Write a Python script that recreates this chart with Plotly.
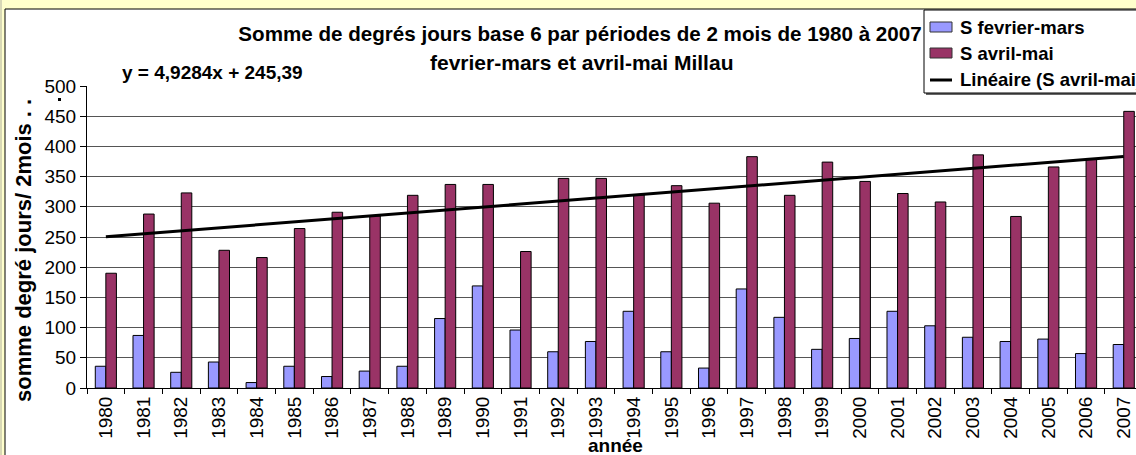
import plotly.graph_objects as go

# ---------------- data ----------------
YEARS = ["1980", "1981", "1982", "1983", "1984", "1985", "1986", "1987", "1988", "1989",
         "1990", "1991", "1992", "1993", "1994", "1995", "1996", "1997", "1998", "1999",
         "2000", "2001", "2002", "2003", "2004", "2005", "2006", "2007"]
FEV_MARS = [36, 87, 26, 43, 9, 36, 19, 28, 36, 115,
            169, 96, 60, 77, 127, 60, 33, 164, 117, 64,
            82, 127, 103, 84, 77, 81, 57, 72]
AVR_MAI = [190, 288, 323, 228, 216, 264, 291, 285, 319, 337,
           337, 226, 347, 347, 320, 335, 306, 383, 319, 374,
           342, 322, 308, 386, 284, 366, 380, 458]
# trend line equation printed on the chart
TREND_SLOPE = 4.9284
TREND_INTERCEPT = 245.39
Y_TICKS = [0, 50, 100, 150, 200, 250, 300, 350, 400, 450, 500]

TITLE_1 = "Somme de degrés jours base 6 par périodes de 2 mois de 1980 à 2007"
TITLE_2 = "fevrier-mars et avril-mai Millau"
EQUATION = "y = 4,9284x + 245,39"
Y_TITLE = "somme degré jours/ 2mois . ."
X_TITLE = "année"
LEGEND_NAMES = ["S fevrier-mars", "S avril-mai", "Linéaire (S avril-mai)"]

# ---------------- layout geometry (pixels) ----------------
W, H = 1136, 455
ML, MT = 87, 86
PLOT_BOTTOM = 388
PLOT_W = W - ML
PLOT_H = PLOT_BOTTOM - MT
CAT_PX = 37.7
X_END = -0.5 + PLOT_W / CAT_PX

FONT = "Arial, Liberation Sans, sans-serif"
BLUE = "#9999FF"
PLUM = "#993366"
YELLOW = "#FFFFCC"


def px(x):
    return (x - ML) / PLOT_W


def py(y):
    return (PLOT_BOTTOM - y) / PLOT_H


trend_x = [YEARS[0], YEARS[-1]]
trend_y = [TREND_SLOPE * 1 + TREND_INTERCEPT, TREND_SLOPE * len(YEARS) + TREND_INTERCEPT]

fig = go.Figure()
fig.add_trace(go.Bar(x=YEARS, y=FEV_MARS, name=LEGEND_NAMES[0],
                     marker=dict(color=BLUE, line=dict(color="#000000", width=1)),
                     showlegend=False))
fig.add_trace(go.Bar(x=YEARS, y=AVR_MAI, name=LEGEND_NAMES[1],
                     marker=dict(color=PLUM, line=dict(color="#000000", width=1)),
                     showlegend=False))
fig.add_trace(go.Scatter(x=trend_x, y=trend_y, mode="lines", name=LEGEND_NAMES[2],
                         line=dict(color="#000000", width=3), showlegend=False))

shapes = [
    # outer frame line at far left
    dict(type="line", xref="paper", yref="paper", x0=px(1), x1=px(1), y0=py(-5), y1=py(470),
         line=dict(color="#B0B0A0", width=1), layer="below"),
    # white chart area with black border
    dict(type="rect", xref="paper", yref="paper", x0=px(5), x1=px(1160), y0=py(480), y1=py(9),
         fillcolor="#FFFFFF", line=dict(color="#000000", width=1), layer="below"),
    # small stray dot near the top of the value axis
    dict(type="rect", xref="paper", yref="paper", x0=px(58), x1=px(61), y0=py(101), y1=py(98),
         fillcolor="#000000", line=dict(width=0), layer="above"),
    # legend shadow and box
    dict(type="rect", xref="paper", yref="paper", x0=px(926), x1=px(1160), y0=py(95), y1=py(12),
         fillcolor="#666666", line=dict(width=0), layer="above"),
    dict(type="rect", xref="paper", yref="paper", x0=px(924), x1=px(1160), y0=py(93), y1=py(10),
         fillcolor="#FFFFFF", line=dict(color="#000000", width=1), layer="above"),
    # legend swatches
    dict(type="rect", xref="paper", yref="paper", x0=px(930), x1=px(952), y0=py(32), y1=py(22),
         fillcolor=BLUE, line=dict(color="#333333", width=1), layer="above"),
    dict(type="rect", xref="paper", yref="paper", x0=px(930), x1=px(952), y0=py(58), y1=py(48),
         fillcolor=PLUM, line=dict(color="#333333", width=1), layer="above"),
    dict(type="line", xref="paper", yref="paper", x0=px(930), x1=px(952), y0=py(80), y1=py(80),
         line=dict(color="#000000", width=3), layer="above"),
]

annotations = [
    dict(text=TITLE_2, xref="paper", yref="paper", x=px(581), y=py(62), xanchor="center",
         yanchor="middle", showarrow=False,
         font=dict(family=FONT, size=21, color="#000000", weight="bold")),
    dict(text=EQUATION, xref="paper", yref="paper", x=px(120), y=py(72), xanchor="left",
         yanchor="middle", showarrow=False,
         font=dict(family=FONT, size=19, color="#000000", weight="bold")),
    dict(text=Y_TITLE, xref="paper", yref="paper", x=px(23), y=py(251), xanchor="center",
         yanchor="middle", textangle=-90, showarrow=False,
         font=dict(family=FONT, size=22, color="#000000", weight="bold")),
    dict(text=X_TITLE, xref="paper", yref="paper", x=px(615), y=py(445), xanchor="center",
         yanchor="middle", showarrow=False,
         font=dict(family=FONT, size=19, color="#000000", weight="bold")),
]
for name, yc in zip(LEGEND_NAMES, [27, 53, 80]):
    annotations.append(dict(text=name, xref="paper", yref="paper", x=px(958), y=py(yc),
                            xanchor="left", yanchor="middle", showarrow=False,
                            font=dict(family=FONT, size=18.5, color="#000000", weight="bold")))

fig.update_layout(
    width=W, height=H,
    margin=dict(l=ML, r=0, t=MT, b=H - PLOT_BOTTOM, pad=0, autoexpand=False),
    paper_bgcolor=YELLOW, plot_bgcolor="rgba(0,0,0,0)",
    barmode="group", bargap=0.44, bargroupgap=0.0,
    showlegend=False,
    title=dict(text=TITLE_1, x=580 / W, xanchor="center", xref="container",
               y=1 - 34 / H, yanchor="middle", yref="container",
               font=dict(family=FONT, size=20.6, color="#000000", weight="bold")),
    font=dict(family=FONT, color="#000000"),
    shapes=shapes, annotations=annotations,
    xaxis=dict(type="category", range=[-0.5, X_END], tickangle=-90, ticks="outside",
               ticklen=5, tickcolor="#000000", tickson="boundaries", showline=True,
               linecolor="#000000", linewidth=1, showgrid=False, automargin=False,
               tickfont=dict(family=FONT, size=19, color="#000000")),
    yaxis=dict(range=[0, 500], tickvals=Y_TICKS, ticks="outside", ticklen=6,
               tickcolor="#000000", showline=True, linecolor="#000000", linewidth=1,
               showgrid=True, gridcolor="#555555", gridwidth=1, zeroline=False,
               automargin=False, tickfont=dict(family=FONT, size=19, color="#000000")),
)

fig.write_html("out.html", config={"displayModeBar": False},
               post_script="document.body.style.margin='0';document.body.style.overflow='hidden';")
